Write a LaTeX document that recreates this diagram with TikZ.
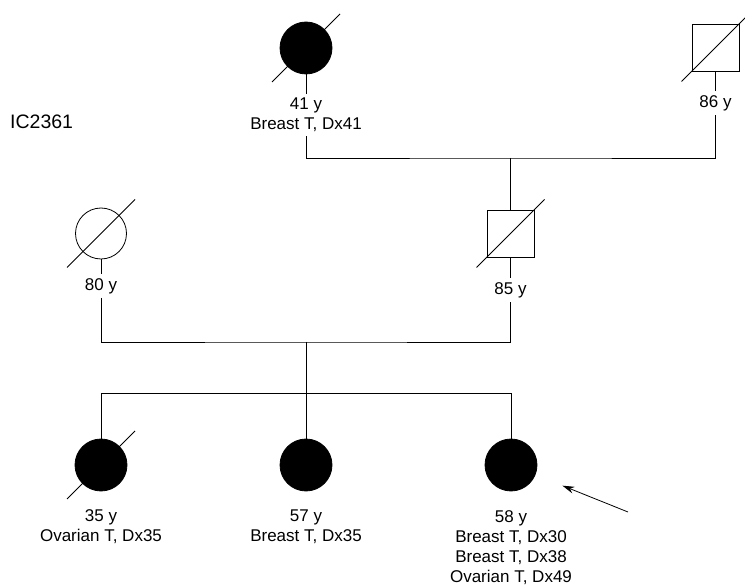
\documentclass[tikz,border=0pt]{standalone}
\usepackage{fontspec}
\setmainfont{Liberation Sans}
\usetikzlibrary{arrows.meta, calc, positioning}
\begin{document}
\begin{tikzpicture}[x=1pt, y=-1pt, font=\fontsize{17}{20}\selectfont,
	fem/.style={circle, draw, line width=0.8pt, minimum size=52pt, inner sep=0pt},
	mal/.style={rectangle, draw, line width=0.8pt, minimum size=47pt, inner sep=0pt},
	aff/.style={fill=black},
	lab/.style={anchor=north, align=center, inner xsep=0pt, inner ysep=4pt},
	rel/.style={line width=0.8pt},
	dead/.style={line width=0.8pt},
	ptr/.style={-{Stealth[length=12pt, width=7pt]}, line width=0.8pt}]

	\useasboundingbox (0,0) rectangle (745,585);

	\node[anchor=base west, inner sep=0pt, font=\fontsize{19.5}{22}\selectfont]
		(id) at (10,129) {IC2361};

	% grandparents
	\node[fem, aff] (gm) at (306,48) {};
	\node[mal] (gf) at (715.5,47.5) {};
	\node[lab] (lgm) at (306,94) {41 y\\Breast T, Dx41};
	\node[lab] (lgf) at (715.5,91) {86 y};

	% parents
	\node[fem, minimum size=51pt] (mo) at (101,233.5) {};
	\node[mal] (fa) at (510.5,233.5) {};
	\node[lab] (lmo) at (101,274) {80 y};
	\node[lab] (lfa) at (510.5,278) {85 y};

	% children
	\node[fem, aff] (c1) at (101,465) {};
	\node[fem, aff] (c2) at (306,465) {};
	\node[fem, aff] (c3) at (511,465) {};
	\node[lab] (lc1) at (101,505) {35 y\\Ovarian T, Dx35};
	\node[lab] (lc2) at (306,506) {57 y\\Breast T, Dx35};
	\node[lab] (lc3) at (511,506) {58 y\\Breast T, Dx30\\Breast T, Dx38\\Ovarian T, Dx49};

	\coordinate (m1) at (510.5,158);
	\coordinate (m2) at (306,342);
	\coordinate (sb) at (306,393);
	\coordinate (ar) at (628,512);

	\draw[rel] (gm) -- (lgm);
	\draw[rel] (gf) -- (lgf);
	\draw[rel] (mo) -- (lmo);
	\draw[rel] (fa) -- (lfa);
	\draw[rel] (lgm.south) |- (m1) -| (lgf.south);
	\draw[rel] (m1) -- (fa);
	\draw[rel] (lmo.south) |- (m2) -| (lfa.south);
	\draw[rel] (m2) -- (sb);
	\draw[rel] (sb) -| (c1);
	\draw[rel] (sb) -- (c2);
	\draw[rel] (sb) -| (c3);

	\foreach \n in {gm,gf,mo,fa,c1}
		\draw[dead] ($(\n)+(-34,34)$) -- ($(\n)+(34,-34)$);

	\draw[ptr, shorten >=29pt] (ar) -- (c3);
\end{tikzpicture}
\end{document}
